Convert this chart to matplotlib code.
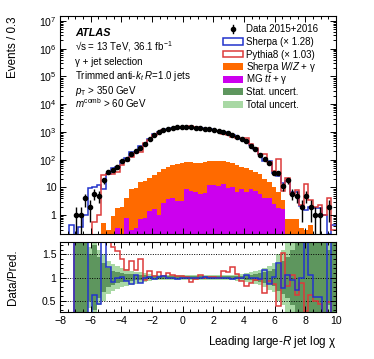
import numpy as np
import matplotlib
matplotlib.use("Agg")
import matplotlib.pyplot as plt
from matplotlib.patches import Rectangle
from matplotlib.lines import Line2D
from matplotlib.ticker import FixedLocator, MultipleLocator, LogLocator, FuncFormatter, NullFormatter

plt.rcParams["font.family"] = ["Liberation Sans", "DejaVu Sans"]
plt.rcParams["mathtext.fontset"] = "custom"
plt.rcParams["mathtext.rm"] = "Liberation Sans"
plt.rcParams["mathtext.it"] = "Liberation Sans:italic"
plt.rcParams["mathtext.bf"] = "Liberation Sans:bold"

# binning: log chi from -8 to 10, 0.3 wide
bin_edges = np.round(np.arange(-8.0, 10.01, 0.3), 2)

data = [0, 0, 0, 1, 1, 4, 2, 6, 5, 18,
        36, 44, 55, 88, 107, 162, 200, 265, 370, 575,
        800, 1020, 1180, 1290, 1390, 1470, 1520, 1520, 1470, 1420,
        1340, 1300, 1230, 1150, 1090, 1000, 890, 780, 660, 560,
        480, 320, 245, 152, 107, 76, 34, 34, 11, 18,
        6, 5, 2, 5, 2, 1, 1, 0, 2, 0]

sherpa = [0, 0, 0.44, 0, 0.37, 1.0, 9.7, 10, 12, 9,
          30, 49, 55, 86, 116, 188, 190, 300, 370, 565,
          825, 1000, 1145, 1290, 1390, 1510, 1520, 1520, 1480, 1420,
          1340, 1290, 1230, 1160, 1090, 1000, 910, 800, 665, 560,
          457, 323, 250, 158, 91, 88, 33, 26, 14, 17,
          6.7, 6.9, 2.1, 1.5, 2.0, 1.75, 1.75, 1.0, 0.2, 0.45]

pythia = [0, 0, 0, 0, 0, 0, 0, 0.55, 1.05, 27,
          30, 30, 35, 63, 91, 120, 171, 190, 390, 505,
          777, 910, 1145, 1170, 1320, 1430, 1460, 1490, 1630, 1460,
          1260, 1300, 1200, 1130, 1090, 870, 795, 640, 610, 610,
          585, 365, 258, 157, 162, 83, 40, 105, 7.2, 22,
          6.0, 8.1, 2.4, 13, 3.4, 2.0, 2.4, 1.0, 4.2, 0.3]

# Sherpa W/Z+gamma stacked on top of ttbar+gamma (visible top of orange)
wz_stack = [0, 0, 0, 0, 0, 0, 0, 0, 0, 0.5,
            0.3, 0.9, 1.8, 1.9, 4, 8.4, 9.7, 16, 17, 22,
            28, 36, 45, 52, 62, 70, 78, 80, 80, 78,
            78, 84, 90, 92, 90, 88, 82, 74, 64, 56,
            50, 44, 35, 30, 20, 16, 10, 7, 3.5, 0.7,
            0.75, 0.7, 0.35, 0.3, 0.45, 0, 0, 0, 0, 0]

ttgamma = [0, 0, 0, 0, 0, 0, 0, 0, 0, 0,
           0, 0, 0.35, 0, 0.8, 0.3, 0.35, 0.7, 0.8, 1.4,
           1.6, 1.05, 2.8, 3.7, 4.2, 3.2, 3.2, 8.9, 7.5, 7.0,
           6.0, 6.5, 12, 12, 11.5, 13, 9.5, 10, 7, 8.5,
           7, 9, 7.5, 6, 4, 4, 2.5, 1.85, 1.6, 0,
           0, 0, 0, 0, 0, 0, 0, 0, 0, 0]

ratio_sherpa = [0, 0, 0, 5, 5, 5, 0.2, 0.62, 0.43, 5,
                1.22, 0.9, 1.0, 1.02, 0.92, 0.86, 1.05, 0.88, 1.0, 1.02,
                0.97, 1.02, 1.03, 1.0, 1.0, 0.97, 1.0, 1.0, 0.99, 1.0,
                1.0, 1.01, 1.0, 0.99, 1.0, 1.0, 0.98, 0.97, 0.99, 1.0,
                1.05, 0.99, 0.98, 0.96, 1.17, 0.86, 1.02, 1.32, 0.78, 1.05,
                0.95, 0.74, 0.98, 5, 1.05, 0.57, 0.57, 0, 5, 0]

ratio_pythia = [0, 0, 0, 5, 5, 5, 5, 5, 5, 5,
                5, 1.65, 1.57, 1.39, 1.17, 1.35, 1.17, 1.39, 0.95, 1.14,
                1.03, 1.12, 1.03, 1.1, 1.05, 1.03, 1.04, 1.02, 0.9, 0.97,
                1.06, 1.0, 1.02, 1.02, 1.0, 1.15, 1.12, 1.22, 1.08, 0.92,
                0.82, 0.88, 0.95, 0.97, 0.66, 0.92, 0.86, 0.38, 1.53, 0.81,
                1.06, 0.63, 0.88, 0.28, 0.62, 0.5, 0.42, 0, 0.48, 0]

# relative half-widths of the uncertainty bands
stat_unc = [0, 0, 0, 1.0, 1.0, 1.0, 0.5, 0.7, 0.45, 0.31,
            0.2, 0.15, 0.12, 0.1, 0.08, 0.07, 0.06, 0.05, 0.05, 0.04,
            0.03, 0.03, 0.03, 0.03, 0.03, 0.03, 0.03, 0.03, 0.03, 0.03,
            0.03, 0.03, 0.03, 0.03, 0.03, 0.03, 0.03, 0.03, 0.03, 0.04,
            0.05, 0.06, 0.07, 0.09, 0.11, 0.14, 0.18, 0.3, 0.35, 0.45,
            0.6, 0.75, 1.0, 1.0, 1.0, 1.0, 1.0, 1.0, 0.6, 1.0]

total_unc = [0, 0, 0, 1.0, 1.0, 1.0, 0.65, 0.8, 0.6, 0.5,
             0.35, 0.3, 0.25, 0.2, 0.18, 0.15, 0.13, 0.12, 0.1, 0.08,
             0.06, 0.06, 0.06, 0.06, 0.06, 0.06, 0.06, 0.06, 0.06, 0.06,
             0.06, 0.06, 0.06, 0.06, 0.06, 0.06, 0.06, 0.06, 0.07, 0.08,
             0.1, 0.12, 0.14, 0.17, 0.2, 0.26, 0.32, 0.5, 0.6, 0.8,
             0.9, 1.0, 1.0, 1.0, 1.0, 1.0, 1.0, 1.0, 0.8, 1.0]

leg_labels = ["Data 2015+2016", "Sherpa (\u00d7 1.28)", "Pythia8 (\u00d7 1.03)",
              "Sherpa $W/Z$ + \u03b3", "MG $t\\bar{t}$ + \u03b3", "Stat. uncert.", "Total uncert."]

info_lines = ["\u221as = 13 TeV, 36.1 fb$^{-1}$", "\u03b3 + jet selection",
              r"Trimmed anti-$k_{t}$ $R$=1.0 jets", r"$p_{\mathrm{T}}$ > 350 GeV",
              r"$m^{\mathrm{comb}}$ > 60 GeV"]

blue = "#2233cc"
red = "#dd3a3a"
orange = "#ff6a00"
magenta = "#cc00ee"
dark_green = "#5e965e"
light_green = "#a8d8a4"

fig = plt.figure(figsize=(3.74, 3.59), dpi=100)
ax = fig.add_axes([0.1604, 0.3468, 0.738, 0.6086])
rax = fig.add_axes([0.1604, 0.130, 0.738, 0.195])

floor = 1e-3
ax.set_yscale("log")
ax.stairs(np.maximum(wz_stack, floor), bin_edges, fill=True, baseline=floor, color=orange, lw=0)
ax.stairs(np.maximum(ttgamma, floor), bin_edges, fill=True, baseline=floor, color=magenta, lw=0)
ax.stairs(np.maximum(sherpa, floor), bin_edges, color=blue, lw=1.1, baseline=None)
ax.stairs(np.maximum(pythia, floor), bin_edges, color=red, lw=1.1, baseline=None)

centers = 0.5 * (bin_edges[:-1] + bin_edges[1:])
d = np.array(data, dtype=float)
has = d > 0
err = np.sqrt(d[has])
low = np.minimum(err, d[has] - floor)
ax.errorbar(centers[has], d[has], yerr=[low, err], fmt="o", color="black",
            ms=3.0, elinewidth=1.0, capsize=0, zorder=5)

ax.set_xlim(-8, 10)
ax.set_ylim(0.2, 1.5e7)
ax.yaxis.set_major_locator(FixedLocator([10.0 ** k for k in range(0, 8)]))
ax.yaxis.set_minor_locator(LogLocator(base=10, subs=np.arange(2, 10), numticks=20))
ax.yaxis.set_minor_formatter(NullFormatter())


def log_label(v, pos):
    if v == 1:
        return "1"
    if v == 10:
        return "10"
    return r"$10^{%d}$" % round(np.log10(v))


ax.yaxis.set_major_formatter(FuncFormatter(log_label))
ax.set_xticklabels([])

# ratio panel
rax.stairs(np.add(1, total_unc), bin_edges, baseline=np.subtract(1, total_unc), fill=True,
           color=light_green, lw=0)
rax.stairs(np.add(1, stat_unc), bin_edges, baseline=np.subtract(1, stat_unc), fill=True,
           color=dark_green, lw=0)
for yl in (0.5, 1.0, 1.5):
    rax.axhline(yl, color="black", lw=0.7, ls=(0, (1, 1.5)), zorder=1)
rax.stairs(ratio_pythia, bin_edges, color=red, lw=1.1, baseline=None)
rax.stairs(ratio_sherpa, bin_edges, color=blue, lw=1.1, baseline=None)
rax.set_xlim(-8, 10)
rax.set_ylim(0.25, 1.76)
rax.yaxis.set_major_locator(FixedLocator([0.5, 1.0, 1.5]))
rax.yaxis.set_major_formatter(FuncFormatter(lambda v, p: "1" if v == 1 else f"{v:g}"))
rax.yaxis.set_minor_locator(MultipleLocator(0.1))

for a in (ax, rax):
    a.xaxis.set_major_locator(MultipleLocator(2))
    a.xaxis.set_minor_locator(MultipleLocator(0.5))
    a.tick_params(which="both", direction="in", top=True, right=True, labelsize=7.6, pad=2.5, width=0.7)
    a.tick_params(which="major", length=4.5)
    a.tick_params(which="minor", length=2.3)
    for s in a.spines.values():
        s.set_linewidth(0.8)
rax.xaxis.set_major_formatter(FuncFormatter(lambda v, p: f"{v:g}".replace("-", "\u2212")))

fs = 7.0
ax.text(0.054, 0.908, "ATLAS", transform=ax.transAxes, fontsize=fs + 0.8,
        fontweight="bold", fontstyle="italic", va="baseline")
for i, line in enumerate(info_lines):
    ax.text(0.054, 0.842 - i * 0.066, line, transform=ax.transAxes, fontsize=fs, va="baseline")

# legend drawn by hand
leg_y0 = 0.925
leg_dy = 0.0575
box_x, box_w, box_h = 0.591, 0.071, 0.031
styles = [None,
          dict(fc="white", ec=blue, lw=1.1), dict(fc="white", ec=red, lw=1.1),
          dict(fc=orange, ec="none"), dict(fc=magenta, ec="none"),
          dict(fc=dark_green, ec="none"), dict(fc=light_green, ec="none")]
for i, lab in enumerate(leg_labels):
    yb = leg_y0 - i * leg_dy
    ax.text(0.673, yb, lab, transform=ax.transAxes, fontsize=fs, va="baseline")
    yc = yb + 0.016
    if styles[i] is None:
        ax.add_line(Line2D([box_x + box_w / 2] * 2, [yc - 0.02, yc + 0.02], color="black",
                           lw=1.0, transform=ax.transAxes))
        ax.add_line(Line2D([box_x + box_w / 2], [yc], marker="o", ms=3.0, color="black",
                           transform=ax.transAxes))
    else:
        ax.add_patch(Rectangle((box_x, yc - box_h / 2), box_w, box_h,
                               transform=ax.transAxes, **styles[i]))

fig.text(12.7 / 374, 1 - 17 / 359, "Events / 0.3", rotation=90, ha="center", va="top", fontsize=8.4)
fig.text(12.7 / 374, 1 - 277 / 359, "Data/Pred.", rotation=90, ha="center", va="center", fontsize=8.4)
fig.text(336.5 / 374, 1 - 345 / 359, "Leading large-$R$ jet log \u03c7", ha="right", va="baseline", fontsize=8.4)

fig.savefig("out.png", dpi=100)
